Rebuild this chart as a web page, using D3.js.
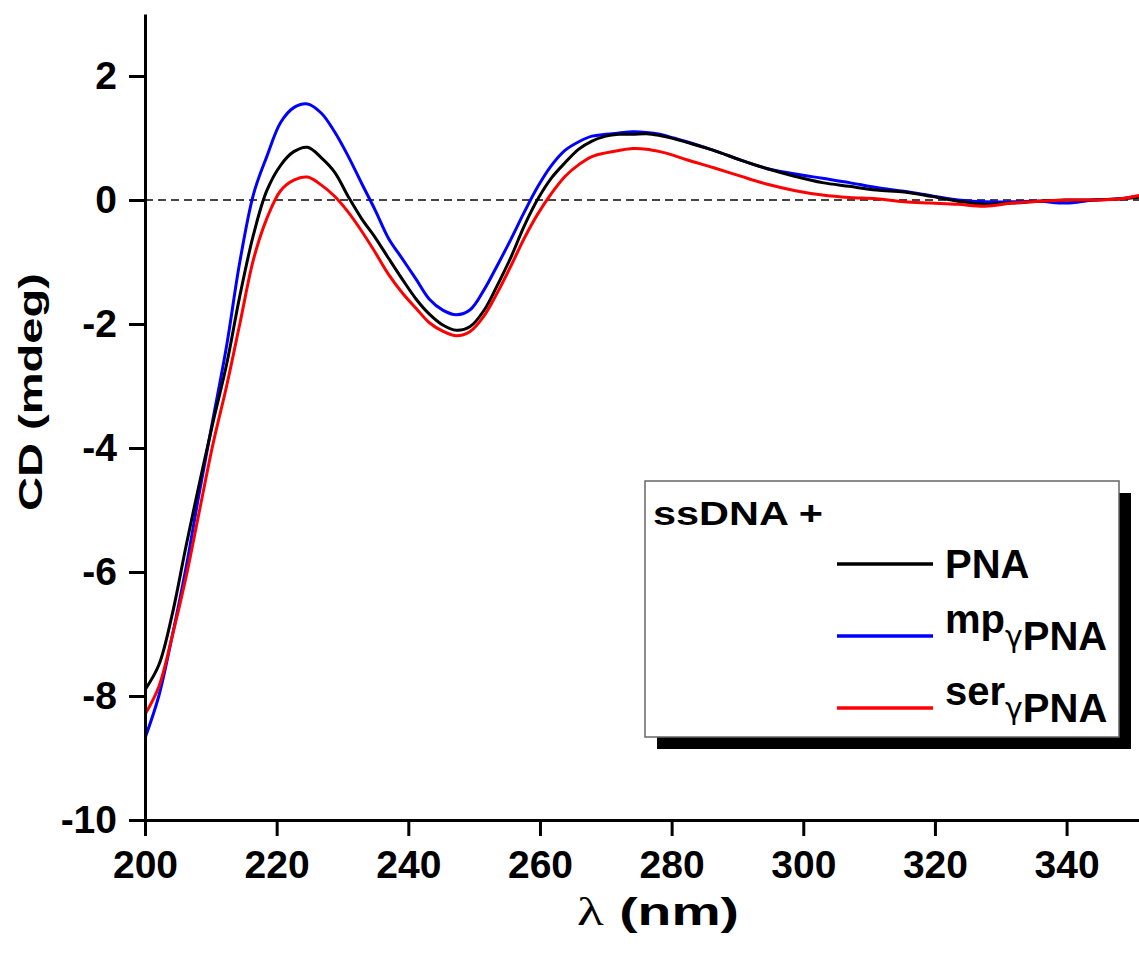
<!DOCTYPE html>
<html>
<head>
<meta charset="utf-8">
<script src="https://cdn.jsdelivr.net/npm/d3@7"></script>
<style>
  body { margin: 0; background: #fff; }
  text { font-family: "Liberation Sans", Arial, sans-serif; font-weight: bold; fill: #000; }
</style>
</head>
<body>
<div id="chart"></div>
<script>
var wavelengths = [200, 202.1, 204.1, 206.2, 208.2, 210.3, 212.4, 214.4, 216.5, 218.5,
  220.6, 222.6, 224.7, 226.8, 228.8, 230.9, 232.9, 235.0, 237.0, 239.1,
  241.2, 243.2, 245.3, 247.3, 249.4, 251.5, 253.5, 255.6, 257.6, 259.7,
  261.7, 263.8, 265.9, 267.9, 270.0, 272.0, 274.1, 276.2, 278.2, 280.3,
  282.3, 286.4, 290.6, 294.7, 298.8, 302.9, 307.0, 311.1, 315.3, 319.4,
  323.5, 327.6, 331.7, 335.8, 339.9, 344.1, 348.2, 352.3];

var pna = [-7.9, -7.5, -6.7, -5.6, -4.6, -3.6, -2.65, -1.55, -0.55, 0.15,
  0.56, 0.78, 0.85, 0.68, 0.45, 0.05, -0.3, -0.61, -0.94, -1.28,
  -1.6, -1.84, -2.02, -2.1, -2.04, -1.78, -1.38, -0.92, -0.42, 0.02,
  0.35, 0.6, 0.82, 0.95, 1.03, 1.06, 1.06, 1.07, 1.04, 0.99,
  0.93, 0.8, 0.64, 0.5, 0.38, 0.28, 0.22, 0.16, 0.13, 0.06,
  -0.02, -0.07, -0.05, -0.02, 0.0, 0.0, 0.02, 0.06];

var mpPna = [-8.68, -8.0, -7.05, -5.95, -4.75, -3.55, -2.35, -1.0, 0.1, 0.7,
  1.25, 1.49, 1.55, 1.4, 1.1, 0.7, 0.27, -0.17, -0.62, -0.95,
  -1.28, -1.6, -1.78, -1.85, -1.77, -1.45, -1.06, -0.63, -0.2, 0.22,
  0.55, 0.8, 0.94, 1.03, 1.06, 1.08, 1.1, 1.09, 1.06, 1.0,
  0.94, 0.8, 0.64, 0.5, 0.42, 0.35, 0.28, 0.2, 0.14, 0.07,
  0.0, -0.03, -0.03, -0.02, -0.05, 0.0, 0.02, 0.09];

var serPna = [-8.3, -7.85, -7.05, -6.1, -5.05, -3.95, -3.0, -2.0, -0.95, -0.3,
  0.15, 0.32, 0.37, 0.24, 0.06, -0.2, -0.5, -0.85, -1.2, -1.5,
  -1.75, -1.98, -2.12, -2.19, -2.12, -1.87, -1.5, -1.06, -0.62, -0.22,
  0.1, 0.38, 0.57, 0.7, 0.76, 0.8, 0.83, 0.82, 0.78, 0.72,
  0.65, 0.52, 0.38, 0.25, 0.15, 0.08, 0.04, 0.02, -0.03, -0.05,
  -0.07, -0.1, -0.05, -0.02, 0.0, 0.0, 0.02, 0.1];

var xTicks = [200, 220, 240, 260, 280, 300, 320, 340];
var yTicks = [-10, -8, -6, -4, -2, 0, 2];

var series = [
  {name: "PNA", values: pna, color: "#000000"},
  {name: "mp", values: mpPna, color: "#0000ff"},
  {name: "ser", values: serPna, color: "#ff0000"}
];

var width = 1139, height = 956;
var svg = d3.select("#chart").append("svg")
  .attr("width", width)
  .attr("height", height);

var x = d3.scaleLinear().domain([200, 351]).range([145, 1139]);
var y = d3.scaleLinear().domain([-10, 3]).range([820, 14]);

svg.append("defs").append("clipPath").attr("id", "plotclip")
  .append("rect").attr("x", 145).attr("y", 14).attr("width", width - 145).attr("height", 806);

// zero reference line
svg.append("line")
  .attr("x1", x(200)).attr("x2", width)
  .attr("y1", y(0)).attr("y2", y(0))
  .attr("stroke", "#444").attr("stroke-width", 2)
  .attr("stroke-dasharray", "8,5");

var line = d3.line()
  .x(function(d, i) { return x(wavelengths[i]); })
  .y(function(d) { return y(d); })
  .curve(d3.curveCatmullRom);

var plot = svg.append("g").attr("clip-path", "url(#plotclip)");
// draw order: blue, black, red on top
[series[1], series[0], series[2]].forEach(function(s) {
  plot.append("path")
    .attr("d", line(s.values))
    .attr("fill", "none")
    .attr("stroke", s.color)
    .attr("stroke-width", 3)
    .attr("stroke-linejoin", "round");
});

// axes
var xAxis = svg.append("g")
  .attr("transform", "translate(0," + y(-10) + ")")
  .call(d3.axisBottom(x).tickValues(xTicks).tickSize(16).tickSizeOuter(0).tickPadding(14)
    .tickFormat(function(d) { return String(d); }));

var yAxis = svg.append("g")
  .attr("transform", "translate(" + x(200) + ",0)")
  .call(d3.axisLeft(y).tickValues(yTicks).tickSize(16).tickSizeOuter(0).tickPadding(12)
    .tickFormat(function(d) { return String(d); }));

[xAxis, yAxis].forEach(function(a) {
  a.select(".domain").attr("stroke", "#000").attr("stroke-width", 3);
  a.selectAll(".tick line").attr("stroke", "#000").attr("stroke-width", 3);
  a.selectAll(".tick text")
    .attr("font-family", "Liberation Sans, Arial, sans-serif")
    .attr("font-weight", "bold")
    .attr("font-size", 39)
    .attr("fill", "#000");
});

// axis titles
var xt = svg.append("text")
  .attr("x", 658).attr("y", 925)
  .attr("text-anchor", "middle")
  .attr("font-size", 39)
  .attr("textLength", 162)
  .attr("lengthAdjust", "spacingAndGlyphs");
xt.append("tspan").attr("font-family", "Liberation Serif, serif").attr("font-weight", "normal").text("λ");
xt.append("tspan").text(" (nm)");

svg.append("text")
  .attr("transform", "translate(42,392) rotate(-90)")
  .attr("text-anchor", "middle")
  .attr("font-size", 33)
  .attr("textLength", 238)
  .attr("lengthAdjust", "spacingAndGlyphs")
  .text("CD (mdeg)");

// legend
var lg = {x: 645, y: 481, w: 474, h: 256};
svg.append("rect")
  .attr("x", lg.x + 12).attr("y", lg.y + 12)
  .attr("width", lg.w).attr("height", lg.h)
  .attr("fill", "#000");
svg.append("rect")
  .attr("x", lg.x).attr("y", lg.y)
  .attr("width", lg.w).attr("height", lg.h)
  .attr("fill", "#fff").attr("stroke", "#666").attr("stroke-width", 1.5);

svg.append("text")
  .attr("x", lg.x + 8).attr("y", lg.y + 44)
  .attr("font-size", 33)
  .attr("textLength", 170)
  .attr("lengthAdjust", "spacingAndGlyphs")
  .text("ssDNA +");

var rows = [
  {s: series[0], ly: 564},
  {s: series[1], ly: 636},
  {s: series[2], ly: 708}
];
rows.forEach(function(r) {
  svg.append("line")
    .attr("x1", 837).attr("x2", 933)
    .attr("y1", r.ly).attr("y2", r.ly)
    .attr("stroke", r.s.color).attr("stroke-width", 3.5);
  var t = svg.append("text").attr("font-size", 40);
  if (r.s.name === "PNA") {
    t.attr("x", 945).attr("y", r.ly + 14).text("PNA");
  } else {
    t.attr("x", 945).attr("y", r.ly - 3);
    t.append("tspan").text(r.s.name);
    t.append("tspan").attr("font-size", 30).attr("font-family", "DejaVu Sans, sans-serif")
      .attr("font-weight", "normal").attr("dy", 14).text("γ");
    t.append("tspan").attr("dy", 3).text("PNA");
  }
});
</script>
</body>
</html>
